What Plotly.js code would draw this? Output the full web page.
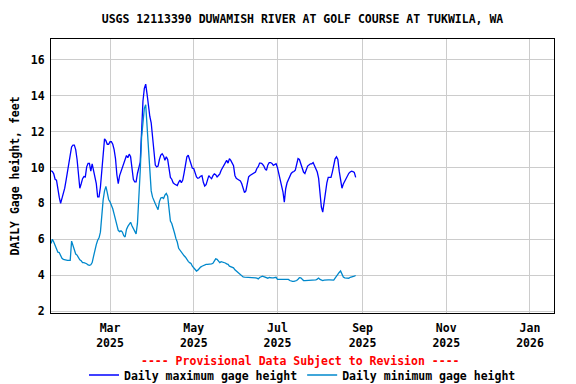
<!DOCTYPE html>
<html>
<head>
<meta charset="utf-8">
<script src="https://cdn.plot.ly/plotly-3.0.1.min.js"></script>
<style>
  html, body { margin: 0; padding: 0; background: #ffffff; }
  #chart { width: 576px; height: 384px; }
</style>
</head>
<body>
<div id="chart"></div>
<script>
// ---- Data ----
const startDate = '2025-01-17';   // first daily value

const dailyMax = [
  9.82, 9.78, 9.65, 9.35, 9.30, 8.70, 8.35, 8.00, 8.25, 8.46,
  8.85, 9.30, 9.70, 10.10, 10.70, 11.15, 11.25, 11.25, 11.00, 10.45,
  9.67, 8.85, 9.10, 9.38, 9.50, 9.48, 10.04, 10.23, 10.23, 9.80,
  10.20, 9.80, 9.50, 9.10, 8.37, 8.37, 8.90, 9.90, 11.05, 11.60,
  11.50, 11.30, 11.30, 11.44, 11.44, 11.30, 11.00, 10.50, 9.60, 9.10,
  9.55, 9.80, 10.00, 10.30, 10.51, 10.67, 10.55, 10.75, 10.60, 9.80,
  9.35, 9.20, 9.20, 9.67, 9.95, 10.30, 12.00, 13.70, 14.42, 14.65,
  14.10, 13.30, 12.85, 12.50, 11.75, 10.79, 10.14, 10.04, 10.08, 10.45,
  10.70, 10.77, 10.65, 10.41, 10.60, 10.45, 10.00, 9.45, 9.35, 9.15,
  9.08, 9.05, 9.00, 9.18, 9.30, 9.15, 9.30, 9.70, 10.30, 10.60,
  10.69, 10.45, 10.10, 9.97, 9.95, 9.72, 9.48, 9.40, 9.43, 9.52,
  9.55, 9.18, 8.97, 9.05, 9.35, 9.55, 9.45, 9.38, 9.55, 9.65,
  9.60, 9.48, 9.56, 9.65, 9.85, 10.00, 10.15, 10.25, 10.40, 10.25,
  10.50, 10.40, 10.20, 10.10, 9.56, 9.40, 9.35, 9.30, 9.25, 9.10,
  8.85, 8.60, 8.70, 9.20, 9.48, 9.56, 9.60, 9.65, 9.68, 9.75,
  9.95, 10.05, 10.25, 10.25, 10.20, 10.10, 9.93, 9.85, 10.15, 10.28,
  10.28, 10.23, 10.12, 10.19, 10.21, 10.00, 9.70, 9.35, 9.00, 8.65,
  8.07, 8.82, 9.15, 9.35, 9.55, 9.67, 9.75, 9.78, 9.86, 10.21,
  10.50, 10.45, 10.20, 9.90, 9.75, 9.67, 9.95, 10.08, 10.15, 10.21,
  10.21, 10.28, 10.10, 9.95, 9.75, 9.40, 8.60, 7.80, 7.52, 8.07,
  8.75, 9.15, 9.45, 9.44, 9.45, 9.75, 10.10, 10.49, 10.60, 10.45,
  9.80, 9.20, 8.85, 9.08, 9.25, 9.40, 9.55, 9.68, 9.75, 9.80,
  9.77, 9.73, 9.45
];

const dailyMin = [
  5.76, 6.00, 5.85, 5.65, 5.42, 5.28, 5.26, 5.05, 4.94, 4.88,
  4.85, 4.83, 4.83, 4.83, 4.83, 5.90, 5.65, 5.38, 5.18, 5.12,
  4.95, 4.86, 4.80, 4.70, 4.70, 4.68, 4.64, 4.57, 4.55, 4.58,
  4.70, 5.05, 5.50, 5.70, 5.95, 6.08, 6.40, 7.50, 8.20, 8.70,
  8.95, 8.60, 8.22, 8.09, 7.93, 7.70, 7.40, 7.05, 6.75, 6.50,
  6.43, 6.47, 6.40, 6.20, 6.13, 6.55, 6.72, 6.85, 6.95, 6.75,
  6.60, 6.40, 6.30, 6.90, 8.10, 9.80, 11.70, 12.60, 13.30, 13.50,
  12.30, 10.90, 9.40, 8.70, 8.35, 8.12, 7.98, 7.81, 7.65, 8.10,
  8.30, 8.33, 8.28, 8.46, 8.56, 8.40, 7.80, 7.02, 6.88, 6.65,
  6.35, 6.05, 5.85, 5.50, 5.39, 5.27, 5.14, 5.08, 5.00, 4.87,
  4.77, 4.70, 4.65, 4.50, 4.42, 4.33, 4.23, 4.28, 4.38, 4.45,
  4.50, 4.54, 4.54, 4.60, 4.60, 4.60, 4.63, 4.63, 4.66, 4.80,
  4.91, 4.88, 4.80, 4.70, 4.75, 4.74, 4.72, 4.68, 4.63, 4.60,
  4.50, 4.46, 4.44, 4.41, 4.30, 4.23, 4.18, 4.13, 4.05, 3.98,
  3.90, 3.89, 3.89, 3.88, 3.86, 3.89, 3.86, 3.88, 3.87, 3.85,
  3.83, 3.79, 3.87, 3.92, 3.94, 3.92, 3.89, 3.85, 3.83, 3.87,
  3.88, 3.85, 3.85, 3.87, 3.88, 3.77, 3.78, 3.76, 3.76, 3.76,
  3.76, 3.76, 3.76, 3.76, 3.70, 3.66, 3.65, 3.65, 3.66, 3.70,
  3.77, 3.86, 3.85, 3.77, 3.70, 3.70, 3.70, 3.70, 3.70, 3.70,
  3.70, 3.70, 3.73, 3.74, 3.78, 3.84, 3.76, 3.71, 3.70, 3.72,
  3.74, 3.74, 3.74, 3.74, 3.72, 3.70, 3.72, 3.83, 3.96, 4.04,
  4.15, 4.24, 4.02, 3.90, 3.85, 3.84, 3.83, 3.83, 3.88, 3.89,
  3.91, 3.95, 3.98
];

const xTickVals = ['2025-03-01', '2025-05-01', '2025-07-01', '2025-09-01', '2025-11-01', '2026-01-01'];
const xTickText = ['Mar<br>2025', 'May<br>2025', 'Jul<br>2025', 'Sep<br>2025', 'Nov<br>2025', 'Jan<br>2026'];
const yTickVals = [2, 4, 6, 8, 10, 12, 14, 16];

const chartTitle = 'USGS 12113390 DUWAMISH RIVER AT GOLF COURSE AT TUKWILA, WA';
const yTitle = 'DAILY Gage height, feet';
const provisionalNote = '---- Provisional Data Subject to Revision ----';
const seriesNames = ['Daily maximum gage height', 'Daily minimum gage height'];

// ---- Build dates for the daily values ----
function dailyDates(start, n) {
  const out = [];
  const d0 = new Date(start + 'T00:00:00Z');
  for (let i = 0; i < n; i++) {
    const d = new Date(d0.getTime() + i * 86400000);
    out.push(d.toISOString().slice(0, 10));
  }
  return out;
}
const datesMax = dailyDates(startDate, dailyMax.length);
const datesMin = dailyDates(startDate, dailyMin.length);

const FONT = 'DejaVu Sans Mono, Liberation Mono, monospace';

const traces = [
  {
    x: datesMax, y: dailyMax, type: 'scatter', mode: 'lines',
    name: seriesNames[0],
    line: { color: '#0000FF', width: 1.3 }
  },
  {
    x: datesMin, y: dailyMin, type: 'scatter', mode: 'lines',
    name: seriesNames[1],
    line: { color: '#0088CC', width: 1.3 }
  }
];

const layout = {
  width: 576, height: 384,
  margin: { l: 51, r: 22, t: 39, b: 71, pad: 0, autoexpand: false },
  paper_bgcolor: '#ffffff',
  plot_bgcolor: '#ffffff',
  font: { family: FONT, size: 11.5, color: '#000000', weight: 'bold' },
  title: {
    text: chartTitle,
    font: { family: FONT, size: 11.5, color: '#000000', weight: 'bold' },
    x: 0.5, xref: 'paper', xanchor: 'center',
    y: 1 - 19 / 384, yref: 'container', yanchor: 'middle'
  },
  xaxis: {
    type: 'date',
    range: ['2025-01-17', '2026-01-18 12:00'],
    tickmode: 'array', tickvals: xTickVals, ticktext: xTickText,
    showgrid: true, gridcolor: '#cccccc', gridwidth: 1,
    showline: true, linecolor: '#000000', linewidth: 1, mirror: true,
    ticks: '', ticklabelstandoff: 4,
    zeroline: false, fixedrange: true, automargin: false,
    tickfont: { family: FONT, size: 11.5, color: '#000000', weight: 'bold' }
  },
  yaxis: {
    range: [1.89, 17.17],
    tickmode: 'array', tickvals: yTickVals,
    showgrid: true, gridcolor: '#cccccc', gridwidth: 1,
    showline: true, linecolor: '#000000', linewidth: 1, mirror: true,
    ticks: '', ticklabelstandoff: 3,
    zeroline: false, fixedrange: true, automargin: false,
    tickfont: { family: FONT, size: 11.5, color: '#000000', weight: 'bold' },
    title: {
      text: yTitle, standoff: 8,
      font: { family: FONT, size: 11.5, color: '#000000', weight: 'bold' }
    }
  },
  showlegend: true,
  legend: {
    orientation: 'h',
    x: 0.5, xanchor: 'center', xref: 'paper',
    y: (313 - 375) / 274, yanchor: 'middle', yref: 'paper',
    font: { family: FONT, size: 11.5, color: '#000000', weight: 'bold' },
    bgcolor: 'rgba(0,0,0,0)',
    itemwidth: 30,
    tracegroupgap: 0
  },
  annotations: [
    {
      text: provisionalNote,
      xref: 'paper', yref: 'paper',
      x: 0.497, y: (313 - 361) / 274,
      xanchor: 'center', yanchor: 'middle',
      showarrow: false,
      font: { family: FONT, size: 11.5, color: '#FF0000', weight: 'bold' }
    }
  ]
};

Plotly.newPlot('chart', traces, layout, { displayModeBar: false, staticPlot: true });
</script>
</body>
</html>
